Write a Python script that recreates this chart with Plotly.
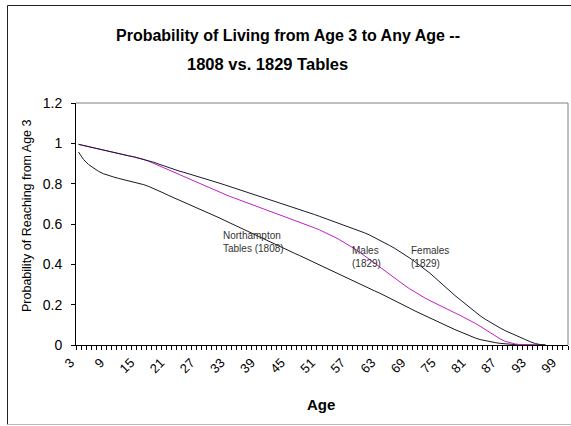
import plotly.graph_objects as go

# Survivorship from age 3, by age
ages = list(range(3, 97))

northampton_1808 = [
    0.957, 0.920, 0.895, 0.876, 0.861, 0.849, 0.840, 0.833, 0.826, 0.820,
    0.814, 0.808, 0.802, 0.795, 0.786, 0.776, 0.765, 0.753, 0.741, 0.730,
    0.719, 0.708, 0.698, 0.688, 0.678, 0.667, 0.655, 0.643, 0.631, 0.619,
    0.607, 0.595, 0.583, 0.571, 0.559, 0.547, 0.535, 0.523, 0.512, 0.501,
    0.490, 0.478, 0.467, 0.455, 0.444, 0.432, 0.420, 0.409, 0.398, 0.386,
    0.374, 0.362, 0.350, 0.338, 0.326, 0.314, 0.302, 0.290, 0.279, 0.268,
    0.257, 0.245, 0.233, 0.221, 0.208, 0.195, 0.182, 0.169, 0.157, 0.145,
    0.133, 0.121, 0.109, 0.098, 0.087, 0.076, 0.066, 0.055, 0.044, 0.035,
    0.027, 0.021, 0.016, 0.012, 0.008, 0.005, 0.003, 0.002, 0.001, 0.001,
    0.000, 0.000, 0.000, 0.000,
]

males_1829 = [
    0.995, 0.989, 0.983, 0.977, 0.971, 0.965, 0.959, 0.953, 0.948, 0.943,
    0.938, 0.933, 0.927, 0.920, 0.911, 0.900, 0.889, 0.878, 0.867, 0.856,
    0.845, 0.834, 0.823, 0.812, 0.801, 0.790, 0.779, 0.768, 0.758, 0.748,
    0.738, 0.729, 0.720, 0.711, 0.702, 0.693, 0.684, 0.675, 0.665, 0.655,
    0.645, 0.636, 0.627, 0.618, 0.609, 0.600, 0.591, 0.581, 0.571, 0.560,
    0.548, 0.535, 0.522, 0.508, 0.493, 0.477, 0.460, 0.443, 0.425, 0.406,
    0.387, 0.368, 0.349, 0.331, 0.313, 0.295, 0.278, 0.262, 0.247, 0.233,
    0.220, 0.207, 0.195, 0.183, 0.171, 0.159, 0.147, 0.135, 0.122, 0.108,
    0.093, 0.077, 0.061, 0.045, 0.030, 0.018, 0.010, 0.005, 0.002, 0.001,
    0.000, 0.000, 0.000, 0.000,
]

females_1829 = [
    0.995, 0.989, 0.983, 0.977, 0.971, 0.965, 0.959, 0.953, 0.948, 0.943,
    0.938, 0.933, 0.927, 0.921, 0.914, 0.906, 0.897, 0.888, 0.879, 0.871,
    0.863, 0.856, 0.849, 0.842, 0.835, 0.827, 0.819, 0.811, 0.803, 0.795,
    0.787, 0.779, 0.771, 0.763, 0.755, 0.747, 0.739, 0.730, 0.721, 0.712,
    0.703, 0.695, 0.687, 0.679, 0.671, 0.663, 0.655, 0.647, 0.638, 0.629,
    0.620, 0.612, 0.604, 0.595, 0.586, 0.577, 0.567, 0.556, 0.545, 0.533,
    0.520, 0.507, 0.493, 0.479, 0.464, 0.448, 0.431, 0.413, 0.395, 0.376,
    0.356, 0.334, 0.311, 0.288, 0.266, 0.245, 0.225, 0.204, 0.183, 0.163,
    0.145, 0.128, 0.112, 0.097, 0.084, 0.071, 0.059, 0.048, 0.038, 0.027,
    0.016, 0.007, 0.002, 0.000,
]

# Category axis: ages 3..100, labelled every sixth year
axis_first, axis_last = 3, 100
tick_labels = list(range(3, 100, 6))

FONT = "Liberation Sans, Arial, sans-serif"

fig = go.Figure()
fig.add_trace(go.Scatter(x=ages, y=northampton_1808, mode="lines",
                         line=dict(color="#1a1a1a", width=1), name="Northampton Tables (1808)"))
fig.add_trace(go.Scatter(x=ages, y=males_1829, mode="lines",
                         line=dict(color="#c020c8", width=1), name="Males (1829)"))
fig.add_trace(go.Scatter(x=ages, y=females_1829, mode="lines",
                         line=dict(color="#1a1a2e", width=1), name="Females (1829)"))

boundaries = [a - 0.5 for a in range(axis_first, axis_last + 2)]

fig.update_xaxes(
    range=[axis_first - 0.5, axis_last + 0.5],
    tickmode="array", tickvals=tick_labels, ticktext=[str(t) for t in tick_labels],
    ticks="", tickangle=-45,
    ticklabelshift=-8, ticklabelstandoff=4,
    tickfont=dict(family=FONT, size=13, color="black"),
    minor=dict(tickmode="array", tickvals=boundaries, ticks="outside",
               ticklen=4, tickcolor="black", tickwidth=1, showgrid=False),
    showline=True, linecolor="black", linewidth=1,
    showgrid=False, zeroline=False,
)
fig.update_yaxes(
    range=[0, 1.2], tickmode="linear", tick0=0, dtick=0.2,
    ticks="outside", ticklen=4, tickcolor="black",
    ticklabelstandoff=6,
    tickfont=dict(family=FONT, size=14, color="black"),
    showline=True, linecolor="black", linewidth=1,
    showgrid=False, zeroline=False,
)

W, H = 571, 426
L, R, T, B = 76, 3, 103, 81
pw, ph = W - L - R, H - T - B


def px(x):
    return (x - L) / pw


def py(y):
    return (H - B - y) / ph


annotations = [
    dict(text="<b>Probability of Living from Age 3 to Any Age --</b>",
         x=px(288), y=py(35), xref="paper", yref="paper", showarrow=False,
         xanchor="center", yanchor="middle",
         font=dict(family=FONT, size=16, color="black")),
    dict(text="<b>1808 vs. 1829 Tables</b>",
         x=px(267.5), y=py(64), xref="paper", yref="paper", showarrow=False,
         xanchor="center", yanchor="middle",
         font=dict(family=FONT, size=16.5, color="black")),
    dict(text="<b>Age</b>", x=px(321), y=py(404), xref="paper", yref="paper",
         showarrow=False, xanchor="center", yanchor="middle",
         font=dict(family=FONT, size=15, color="black")),
    dict(text="Probability of Reaching from Age 3", x=px(26.5), y=py(215.5),
         xref="paper", yref="paper", showarrow=False, textangle=-90,
         xanchor="center", yanchor="middle",
         font=dict(family=FONT, size=12.5, color="black")),
    dict(text="Northampton<br>Tables (1808)", x=31.4, y=0.51, xref="x", yref="y",
         showarrow=False, xanchor="left", yanchor="middle", align="left",
         font=dict(family=FONT, size=10, color="#333333")),
    dict(text="Males<br>(1829)", x=57.1, y=0.436, xref="x", yref="y",
         showarrow=False, xanchor="left", yanchor="middle", align="left",
         font=dict(family=FONT, size=10, color="#333333")),
    dict(text="Females<br>(1829)", x=68.8, y=0.436, xref="x", yref="y",
         showarrow=False, xanchor="left", yanchor="middle", align="left",
         font=dict(family=FONT, size=10, color="#333333")),
]

shapes = [
    # plot-area frame (top and right)
    dict(type="line", xref="paper", yref="paper", x0=0, x1=1, y0=1, y1=1,
         line=dict(color="#808080", width=1)),
    dict(type="line", xref="paper", yref="paper", x0=1, x1=1, y0=0, y1=1,
         line=dict(color="#808080", width=1)),
    # chart-area frame
    dict(type="line", xref="paper", yref="paper", x0=px(7.5), x1=px(W + 2),
         y0=py(5.5), y1=py(5.5), line=dict(color="#222222", width=1)),
    dict(type="line", xref="paper", yref="paper", x0=px(7.5), x1=px(7.5),
         y0=py(5.5), y1=py(424.5), line=dict(color="#222222", width=1)),
    dict(type="line", xref="paper", yref="paper", x0=px(7.5), x1=px(W + 2),
         y0=py(424.5), y1=py(424.5), line=dict(color="#bbbbbb", width=1)),
]

fig.update_layout(
    width=W, height=H,
    margin=dict(l=L, r=R, t=T, b=B, autoexpand=False),
    paper_bgcolor="white", plot_bgcolor="white",
    showlegend=False,
    annotations=annotations, shapes=shapes,
)

fig.write_html("out.html", config={"displayModeBar": False})
